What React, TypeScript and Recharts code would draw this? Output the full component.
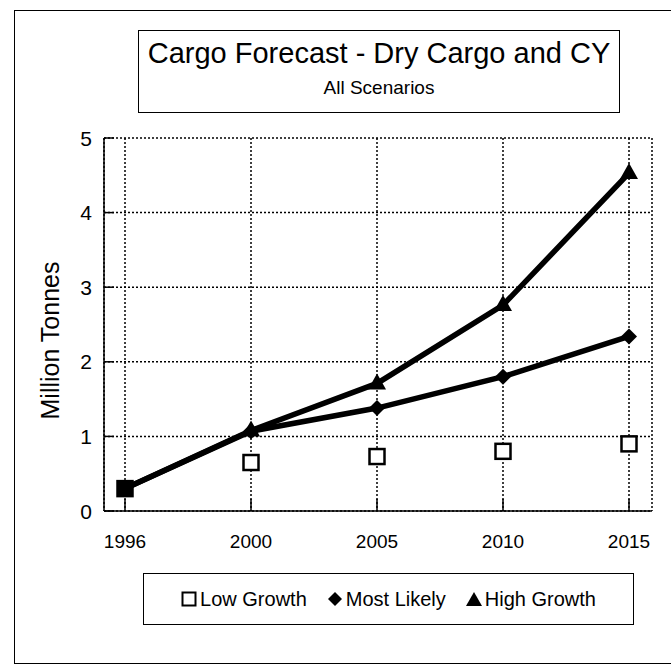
import React from "react";
import { LineChart, Line, XAxis, YAxis, CartesianGrid } from "recharts";

const years = ["1996", "2000", "2005", "2010", "2015"];
const lowGrowth = [0.3, 0.65, 0.73, 0.8, 0.9];
const mostLikely = [0.3, 1.07, 1.38, 1.8, 2.34];
const highGrowth = [0.3, 1.08, 1.71, 2.76, 4.53];
const yTicks = [0, 1, 2, 3, 4, 5];

const data = years.map((year, i) => ({
  year,
  low: lowGrowth[i],
  likely: mostLikely[i],
  high: highGrowth[i],
}));

const FONT = '"Liberation Sans", Arial, sans-serif';

// markers
const SquareDot = (props: any) => {
  const { cx, cy, index } = props;
  return (
    <rect
      x={cx - 7.5}
      y={cy - 7.5}
      width={15}
      height={15}
      fill={index === 0 ? "#000" : "#fff"}
      stroke="#000"
      strokeWidth={2.5}
    />
  );
};

const DiamondDot = (props: any) => {
  const { cx, cy, index } = props;
  if (index === 0) return <g />;
  return (
    <polygon
      points={`${cx},${cy - 8} ${cx + 8},${cy} ${cx},${cy + 8} ${cx - 8},${cy}`}
      fill="#000"
    />
  );
};

const TriangleDot = (props: any) => {
  const { cx, cy, index } = props;
  if (index === 0) return <g />;
  return (
    <polygon
      points={`${cx},${cy - 10} ${cx + 9},${cy + 6} ${cx - 9},${cy + 6}`}
      fill="#000"
    />
  );
};

// ticks drawn pointing into the plot
const YTick = (props: any) => {
  const { x, y, payload } = props;
  const axisX = x + 12;
  return (
    <g>
      <line x1={axisX} x2={axisX + 10} y1={y} y2={y} stroke="#000" strokeWidth={1.5} />
      <text x={x} y={y} dy={7.5} textAnchor="end" fontSize={21} fontFamily={FONT} fill="#000">
        {payload.value}
      </text>
    </g>
  );
};

const XTick = (props: any) => {
  const { x, y, payload } = props;
  const axisY = y - 22;
  return (
    <g>
      <line x1={x} x2={x} y1={axisY} y2={axisY - 12} stroke="#000" strokeWidth={1.5} />
      <text x={x} y={axisY + 37} textAnchor="middle" fontSize={19} fontFamily={FONT} fill="#000">
        {payload.value}
      </text>
    </g>
  );
};

const legendItems = [
  {
    name: "Low Growth",
    icon: <rect x={1.5} y={1.5} width={13} height={13} fill="#fff" stroke="#000" strokeWidth={2} />,
  },
  { name: "Most Likely", icon: <polygon points="8,1 15,8 8,15 1,8" fill="#000" /> },
  { name: "High Growth", icon: <polygon points="8,1 16,15 0,15" fill="#000" /> },
];

const App = () => {
  return (
    <div
      style={{
        position: "absolute",
        left: 0,
        top: 0,
        width: 671,
        height: 664,
        background: "#fff",
        overflow: "hidden",
        fontFamily: FONT,
      }}
    >
      {/* outer frame */}
      <div
        style={{
          position: "absolute",
          left: 14,
          top: 10,
          width: 670,
          height: 652,
          border: "1.5px solid #000",
        }}
      />

      <LineChart
        width={671}
        height={664}
        data={data}
        margin={{ top: 138, right: 19, bottom: 123, left: 44 }}
        style={{ position: "absolute", left: 0, top: 0 }}
      >
        <CartesianGrid stroke="#000" strokeDasharray="2 2" strokeWidth={1.5} />
        <XAxis
          dataKey="year"
          padding={{ left: 21, right: 23 }}
          height={30}
          axisLine={{ stroke: "#000", strokeWidth: 1.5 }}
          tickLine={false}
          tickSize={0}
          tickMargin={22}
          tick={<XTick />}
          interval={0}
        />
        <XAxis
          xAxisId="top"
          orientation="top"
          dataKey="year"
          height={0}
          axisLine={{ stroke: "#000", strokeWidth: 1.5 }}
          tick={false}
          tickLine={false}
        />
        <YAxis
          domain={[0, 5]}
          ticks={yTicks}
          interval={0}
          width={60}
          axisLine={{ stroke: "#000", strokeWidth: 1.5 }}
          tickLine={false}
          tickSize={0}
          tickMargin={12}
          tick={<YTick />}
          label={(props: any) => {
            const vb = props.viewBox;
            const cx = vb.x + 6;
            const cy = vb.y + vb.height / 2 + 16;
            return (
              <text
                x={cx}
                y={cy}
                transform={`rotate(-90 ${cx} ${cy})`}
                textAnchor="middle"
                dominantBaseline="central"
                fontSize={25}
                fontFamily={FONT}
                fill="#000"
              >
                Million Tonnes
              </text>
            );
          }}
        />
        <YAxis
          yAxisId="right"
          orientation="right"
          domain={[0, 5]}
          width={0}
          axisLine={{ stroke: "#000", strokeWidth: 1.5 }}
          tick={false}
          tickLine={false}
        />
        <Line
          dataKey="low"
          name="Low Growth"
          stroke="none"
          dot={<SquareDot />}
          activeDot={false}
          isAnimationActive={false}
        />
        <Line
          dataKey="likely"
          name="Most Likely"
          stroke="#000"
          strokeWidth={5.5}
          dot={<DiamondDot />}
          activeDot={false}
          isAnimationActive={false}
        />
        <Line
          dataKey="high"
          name="High Growth"
          stroke="#000"
          strokeWidth={5.5}
          dot={<TriangleDot />}
          activeDot={false}
          isAnimationActive={false}
        />
      </LineChart>

      {/* title box */}
      <div
        style={{
          position: "absolute",
          left: 138,
          top: 30,
          width: 480,
          height: 81,
          border: "1.5px solid #000",
          background: "#fff",
          textAlign: "center",
          color: "#000",
        }}
      >
        <div style={{ fontSize: 29, marginTop: 5, lineHeight: "34px" }}>
          Cargo Forecast - Dry Cargo and CY
        </div>
        <div style={{ fontSize: 19, marginTop: 6, lineHeight: "24px" }}>All Scenarios</div>
      </div>

      {/* legend box */}
      <div
        style={{
          position: "absolute",
          left: 143,
          top: 573,
          width: 489,
          height: 50,
          border: "1.5px solid #000",
          background: "#fff",
          display: "flex",
          alignItems: "center",
          justifyContent: "center",
          gap: 20,
          fontSize: 20,
          color: "#000",
        }}
      >
        {legendItems.map((item) => (
          <div key={item.name} style={{ display: "flex", alignItems: "center" }}>
            <svg width={16} height={16} style={{ marginRight: 3 }}>
              {item.icon}
            </svg>
            <span>{item.name}</span>
          </div>
        ))}
      </div>
    </div>
  );
};

export default App;
